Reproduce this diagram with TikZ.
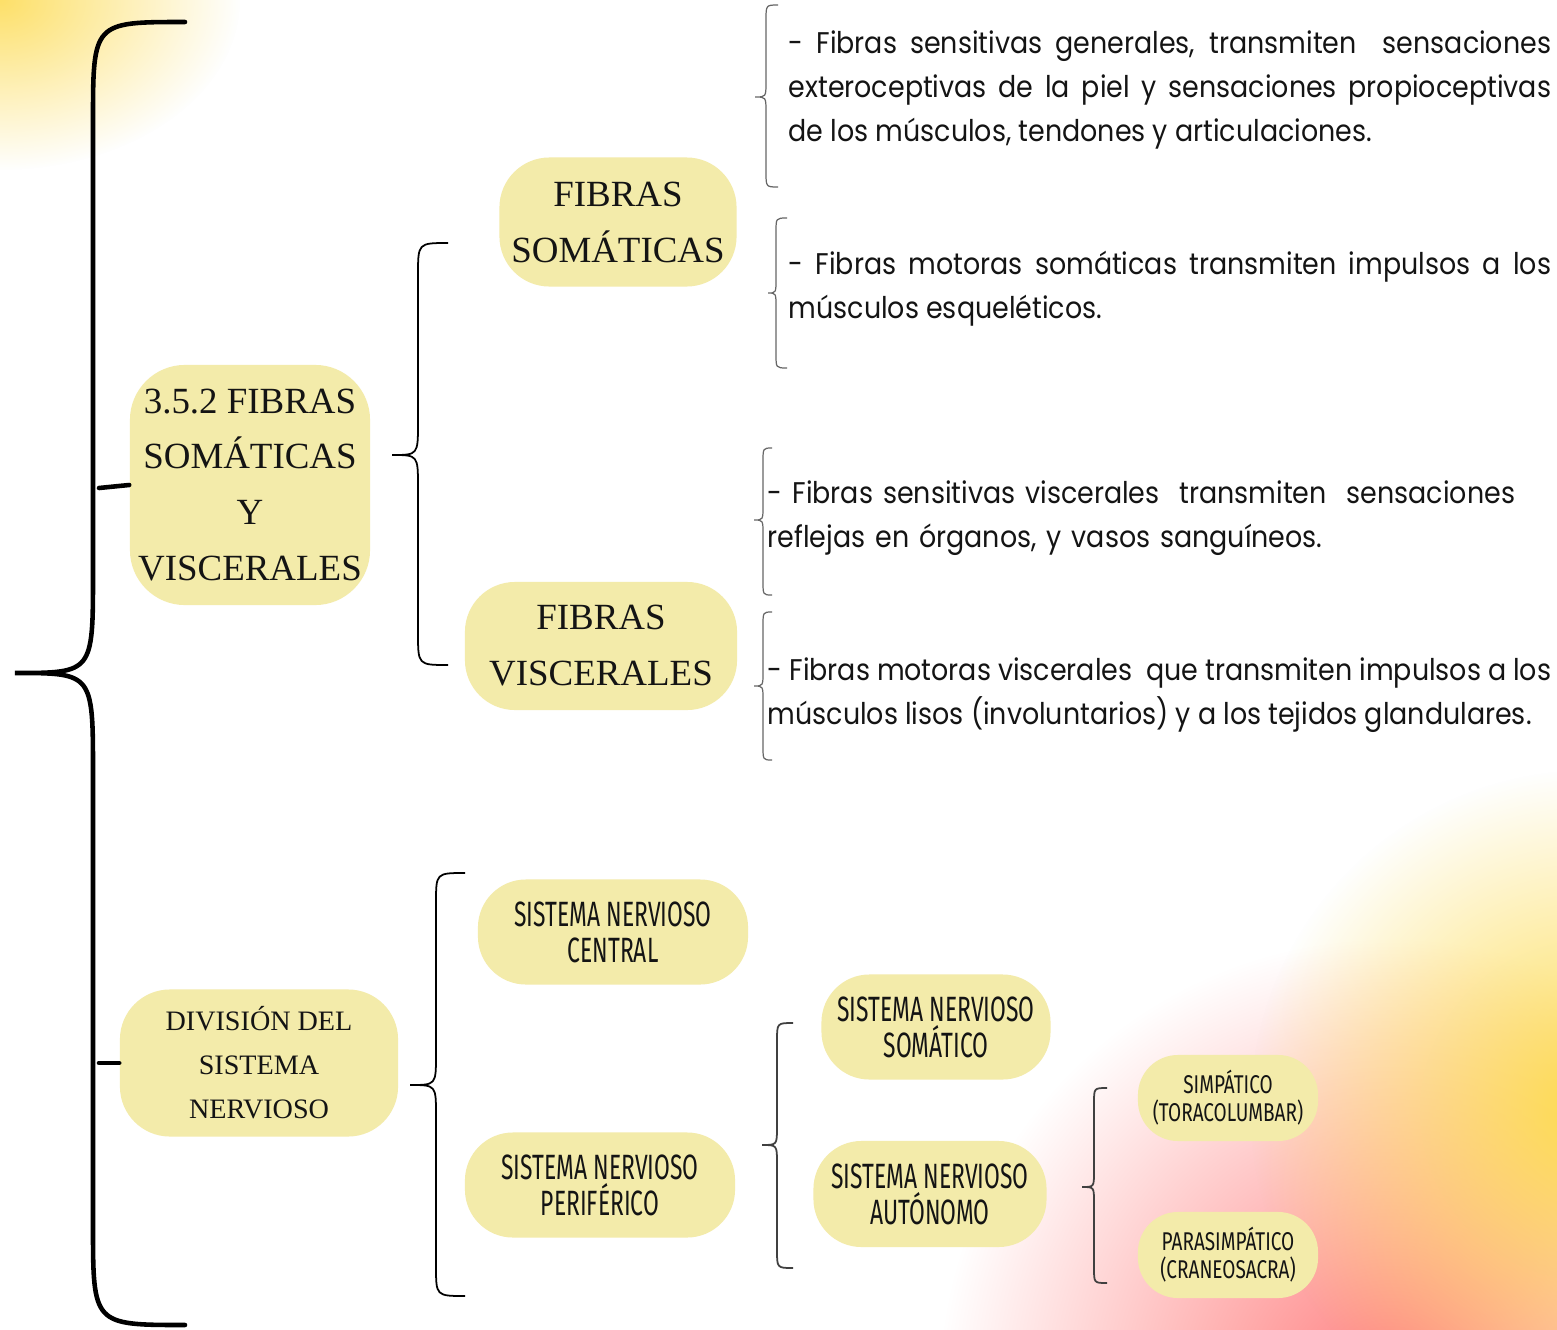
\documentclass[tikz,border=0pt]{standalone}
\usepackage{fontspec}
\setmainfont{Liberation Serif}
\newfontfamily\textofont[FakeStretch=0.9]{Poppins}
\newfontfamily\rotulofont[FakeStretch=0.65]{Fira Sans}
\newfontfamily\rotulochicofont[FakeStretch=0.74]{Fira Sans}
\usetikzlibrary{fadings}

\definecolor{crema}{RGB}{243,235,170}
\definecolor{solar}{RGB}{253,219,78}
\definecolor{coral}{RGB}{255,128,128}
\definecolor{tinta}{RGB}{20,20,20}

\tikzfading[name=brillo, inner color=transparent!0, outer color=transparent!100]

\tikzset{
  caja/.style={fill=crema, align=center, inner sep=0pt, text=tinta},
  titulo/.style={caja, font=\fontsize{10.5}{15.9}\selectfont},
  titulochico/.style={caja, font=\fontsize{8}{12.5}\selectfont},
  rotulo/.style={caja, font=\rotulofont\fontsize{10}{10.3}\selectfont},
  rotulochico/.style={caja, font=\rotulochicofont\fontsize{7.3}{8}\selectfont},
  nota/.style={anchor=north west, inner sep=0pt, text width=7.62cm, align=justify,
    font=\textofont\fontsize{8.5}{12.5}\selectfont, text=tinta},
  llavegruesa/.style={line width=1.3pt, line cap=round},
  llavemedia/.style={line width=0.5pt},
  llavefina/.style={line width=0.35pt, draw=black!60},
}

% llave: [estilo]{x punta sup/inf}{x barra}{x pico}{y arriba}{y pico}{y abajo}{radio}
\newcommand{\llave}[8][]{%
  \draw[#1] (#2,#5) .. controls (#3,#5) .. (#3,{#5+#8}) -- (#3,{#6-#8})
    .. controls (#3,#6) .. (#4,#6) .. controls (#3,#6) .. (#3,{#6+#8})
    -- (#3,{#7-#8}) .. controls (#3,#7) .. (#2,#7);}

\begin{document}
\begin{tikzpicture}[x=0.01cm, y=-0.01cm]
    \useasboundingbox (0,0) rectangle (1557,1330);
    \fill[white] (0,0) rectangle (1557,1330);

    % fondo: manchas de color
    \begin{scope}
      \clip (0,0) rectangle (1557,1330);
      \fill[solar!85, path fading=brillo] (0,0) ellipse (240 and 170);
      \fill[coral, path fading=brillo] (1390,1390) circle (450);
      \fill[solar, path fading=brillo] (1590,1110) circle (340);
    \end{scope}

    % llave principal
    \llave[llavegruesa]{185}{93}{15}{22}{673}{1325}{100}
    \coordinate (brazo1) at (99,488);
    \coordinate (brazo2) at (99,1063);

    % fibras somaticas y viscerales
    \node[titulo, minimum width=2.4cm, minimum height=2.4cm, rounded corners=0.55cm] (fibras) at (250,485) {3.5.2 FIBRAS\\SOMÁTICAS\\Y\\VISCERALES};
    \node[titulo, minimum width=2.37cm, minimum height=1.29cm, rounded corners=0.5cm] (somaticas) at (618,222) {FIBRAS\\SOMÁTICAS};
    \node[titulo, minimum width=2.72cm, minimum height=1.28cm, rounded corners=0.5cm] (viscerales) at (601,646) {FIBRAS\\VISCERALES};
    \draw[llavegruesa] (brazo1) -- (fibras.west);
    \llave[llavemedia]{448}{418}{392}{243}{455}{665}{32}

    % notas de cada tipo de fibra
    \node[nota] (sensgen) at (788,30) {- Fibras sensitivas generales, transmiten \ sensaciones\linebreak exteroceptivas de la piel y sensaciones propioceptivas\linebreak de los músculos, tendones y articulaciones.};
    \node[nota] (motsom) at (788,250) {- Fibras motoras somáticas transmiten impulsos a los\linebreak músculos esqueléticos.};
    \node[nota, text width=7.83cm, align=left] (sensvisc) at (767,480) {- Fibras sensitivas viscerales \ transmiten \ sensaciones\\reflejas en órganos, y vasos sanguíneos.};
    \node[nota, text width=7.83cm] (motvisc) at (767,657) {- Fibras motoras viscerales \ que transmiten impulsos a los\linebreak músculos lisos (involuntarios) y a los tejidos glandulares.};
    \llave[llavefina]{778}{766}{755}{5}{97}{187}{15}
    \llave[llavefina]{787}{776}{768}{218}{293}{368}{14}
    \llave[llavefina]{772}{763}{754}{448}{520}{595}{14}
    \llave[llavefina]{772}{763}{754}{612}{686}{760}{14}

    % division del sistema nervioso
    \node[titulochico, minimum width=2.78cm, minimum height=1.47cm, rounded corners=0.5cm] (division) at (259,1063) {DIVISIÓN DEL\\SISTEMA\\NERVIOSO};
    \draw[llavegruesa] (brazo2) -- (division.west);
    \llave[llavemedia]{465}{436}{410}{873}{1085}{1296}{30}
    \node[rotulo, minimum width=2.7cm, minimum height=1.05cm, rounded corners=0.48cm] (central) at (613,932) {SISTEMA NERVIOSO\\CENTRAL};
    \node[rotulo, minimum width=2.7cm, minimum height=1.05cm, rounded corners=0.48cm] (periferico) at (600,1185) {SISTEMA NERVIOSO\\PERIFÉRICO};

    % periferico
    \llave[llavemedia, draw=black!75]{793}{777}{762}{1023}{1145}{1268}{18}
    \node[rotulo, minimum width=2.29cm, minimum height=1.05cm, rounded corners=0.48cm] (somatico) at (936,1027) {SISTEMA NERVIOSO\\SOMÁTICO};
    \node[rotulo, minimum width=2.33cm, minimum height=1.06cm, rounded corners=0.48cm] (autonomo) at (930,1194) {SISTEMA NERVIOSO\\AUTÓNOMO};

    % autonomo
    \llave[llavemedia, draw=black!75]{1107}{1094}{1082}{1088}{1187}{1283}{15}
    \node[rotulochico, minimum width=1.8cm, minimum height=0.86cm, rounded corners=0.4cm] (simpatico) at (1228,1098) {SIMPÁTICO\\(TORACOLUMBAR)};
    \node[rotulochico, minimum width=1.8cm, minimum height=0.86cm, rounded corners=0.4cm] (parasimpatico) at (1228,1255) {PARASIMPÁTICO\\(CRANEOSACRA)};
\end{tikzpicture}
\end{document}
